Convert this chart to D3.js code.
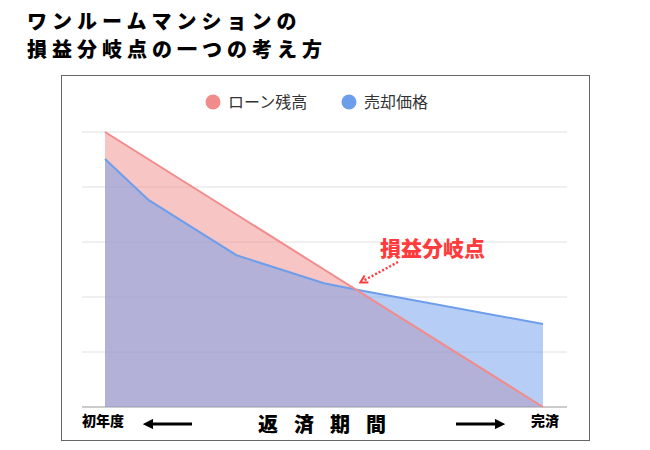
<!DOCTYPE html><html><head><meta charset="utf-8"><script src="https://cdn.jsdelivr.net/npm/d3@7"></script>
<style>body{margin:0;background:#fff;font-family:"Noto Sans CJK JP",sans-serif}</style></head><body><svg id="c" width="650" height="450"></svg>
<script>
const periods=[0,1,3,5,5.75,10];
const loan=[5,4.5,3.5,2.5,2.125,0];
const sale=[4.51,3.76,2.76,2.25,2.13,1.51];
const ticks=[0,1,2,3,4,5];
const svg=d3.select("#c");
const x=d3.scaleLinear().domain([0,10]).range([105,543]);
const y=d3.scaleLinear().domain([0,5]).range([407,132]);
const F='"Noto Sans CJK JP",sans-serif';
svg.append("text").attr("x",27).attr("y",29).attr("font-size",20).attr("font-weight",900).attr("font-family",F).attr("letter-spacing",5).text("ワンルームマンションの");
svg.append("text").attr("x",27).attr("y",57).attr("font-size",20).attr("font-weight",900).attr("font-family",F).attr("letter-spacing",5).text("損益分岐点の一つの考え方");
svg.append("rect").attr("x",61.5).attr("y",75.5).attr("width",528).attr("height",365).attr("fill","none").attr("stroke","#666");
ticks.forEach(t=>svg.append("line").attr("x1",82).attr("x2",567).attr("y1",y(t)).attr("y2",y(t)).attr("stroke",t==0?"#999":"#e0e0e0"));
const area=d3.area().x((d,i)=>x(periods[i])).y0(y(0)).y1(d=>y(d));
const line=d3.line().x((d,i)=>x(periods[i])).y(d=>y(d));
svg.append("path").datum(loan).attr("d",area).attr("fill","#f28b8b").attr("opacity",0.5);
svg.append("path").datum(sale).attr("d",area).attr("fill","#6d9eeb").attr("opacity",0.5);
svg.append("path").datum(sale).attr("d",line).attr("fill","none").attr("stroke","#6d9eeb").attr("stroke-width",2);
svg.append("path").datum(loan).attr("d",line).attr("fill","none").attr("stroke","#f28b8b").attr("stroke-width",2);
[["ローン残高","#f28b8b",213],["売却価格","#6d9eeb",349]].forEach(([t,c,lx])=>{
svg.append("circle").attr("cx",lx).attr("cy",102).attr("r",7.5).attr("fill",c);
svg.append("text").attr("x",lx+15).attr("y",108).attr("font-size",16).attr("font-family",F).attr("fill","#333").text(t);});
svg.append("text").attr("x",380).attr("y",256).attr("font-size",21).attr("font-weight",900).attr("font-family",F).attr("fill","#ff3b3b").text("損益分岐点");
svg.append("defs").append("marker").attr("id","ah").attr("viewBox","0 0 10 10").attr("refX",5).attr("refY",5).attr("markerWidth",4).attr("markerHeight",4).attr("orient","auto").append("path").attr("d","M1,1L8,5L1,9").attr("fill","none").attr("stroke","#ff3b3b").attr("stroke-width",2);
svg.append("line").attr("x1",398).attr("y1",262).attr("x2",363).attr("y2",281).attr("stroke","#ff3b3b").attr("stroke-width",2.5).attr("stroke-dasharray","2,2").attr("marker-end","url(#ah)");
svg.append("text").attr("x",82).attr("y",426).attr("font-size",14).attr("font-weight",900).attr("font-family",F).text("初年度");
svg.append("text").attr("x",559).attr("y",426).attr("text-anchor","end").attr("font-size",14).attr("font-weight",900).attr("font-family",F).text("完済");
svg.append("text").attr("x",330).attr("y",432).attr("text-anchor","middle").attr("font-size",20).attr("font-weight",900).attr("font-family",F).attr("letter-spacing",16).text("返済期間");
const m=svg.select("defs").append("marker").attr("id","ab").attr("viewBox","0 0 10 10").attr("refX",5).attr("refY",5).attr("markerWidth",3.5).attr("markerHeight",3.5).attr("orient","auto");
m.append("path").attr("d","M0,0L10,5L0,10Z").attr("fill","#000");
svg.append("line").attr("x1",192).attr("y1",424).attr("x2",148).attr("y2",424).attr("stroke","#000").attr("stroke-width",3).attr("marker-end","url(#ab)");
svg.append("line").attr("x1",456).attr("y1",424).attr("x2",500).attr("y2",424).attr("stroke","#000").attr("stroke-width",3).attr("marker-end","url(#ab)");
</script></body></html>
